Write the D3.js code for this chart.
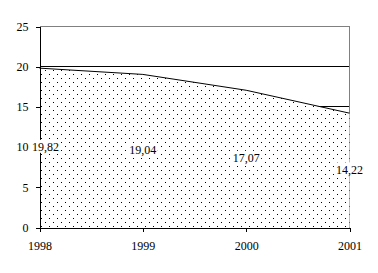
<!DOCTYPE html>
<meta charset='utf-8'>
<style>
  body { margin: 0; background: #fff; }
  text { font-family: 'Liberation Serif', 'Times New Roman', serif; font-size: 12px; fill: #000; }
  .domain, .tick line { stroke: #000; shape-rendering: crispEdges; }
</style>
<svg width='378' height='273'></svg>
<script src="https://d3js.org/d3.v7.min.js"></script>
<script>
  var years = [1998, 1999, 2000, 2001];
  var values = [19.82, 19.04, 17.07, 14.22];
  var labels = ['19,82', '19,04', '17,07', '14,22'];
  var yTicks = [0, 5, 10, 15, 20, 25];

  var svg = d3.select('svg'),
    plotLeft = 39.5, plotRight = 349.5, plotTop = 26.5, plotBottom = 227.5;

  var x = d3.scaleLinear().domain([1998, 2001]).range([plotLeft, plotRight]);
  var y = d3.scaleLinear().domain([0, 25]).range([plotBottom, plotTop]);

  // dot pattern
  var pat = svg.append('defs').append('pattern')
    .attr('id', 'dots')
    .attr('patternUnits', 'userSpaceOnUse')
    .attr('x', 1).attr('y', 2)
    .attr('width', 8).attr('height', 8);
  pat.append('rect').attr('x', 0).attr('y', 0).attr('width', 1).attr('height', 1).attr('fill', '#000');
  pat.append('rect').attr('x', 4).attr('y', 4).attr('width', 1).attr('height', 1).attr('fill', '#000');

  // gridlines
  svg.append('g').selectAll('line').data(yTicks.filter(function(d) { return d > 0; }))
    .enter().append('line')
    .attr('x1', plotLeft).attr('x2', plotRight)
    .attr('y1', function(d) { return y(d); })
    .attr('y2', function(d) { return y(d); })
    .attr('stroke', function(d) { return d === 25 ? '#808080' : '#000'; })
    .attr('shape-rendering', 'crispEdges');

  // right border
  svg.append('line')
    .attr('x1', plotRight).attr('x2', plotRight).attr('y1', plotTop).attr('y2', plotBottom)
    .attr('stroke', '#808080').attr('shape-rendering', 'crispEdges');

  var data = years.map(function(d, i) { return { year: d, value: values[i], label: labels[i] }; });

  var area = d3.area()
    .x(function(d) { return x(d.year); })
    .y0(plotBottom)
    .y1(function(d) { return y(d.value); });

  svg.append('path').datum(data)
    .attr('d', area)
    .attr('fill', '#fff');
  svg.append('path').datum(data)
    .attr('d', area)
    .attr('fill', 'url(#dots)');

  var line = d3.line()
    .x(function(d) { return x(d.year); })
    .y(function(d) { return y(d.value); });

  svg.append('path').datum(data)
    .attr('d', line)
    .attr('fill', 'none')
    .attr('stroke', '#000')
    .attr('stroke-width', 1);

  // axes
  svg.append('g')
    .attr('transform', 'translate(' + plotLeft + ',0)')
    .call(d3.axisLeft(y).tickValues(yTicks).tickSize(4).tickPadding(7).tickFormat(d3.format('d')));

  svg.append('g')
    .attr('transform', 'translate(0,' + plotBottom + ')')
    .call(d3.axisBottom(x).tickValues(years).tickSize(4).tickPadding(10).tickFormat(d3.format('d')))
    .call(function(g) { g.select('.domain').attr('d', 'M' + plotLeft + ',0.5H' + plotRight); });

  // value labels, kept from running past the left axis labels
  var lbl = svg.append('g').selectAll('g').data(data)
    .enter().append('g')
    .attr('transform', function(d) {
      var cx = Math.max(x(d.year), 45.5);
      return 'translate(' + cx + ',' + (y(d.value / 2) - 1) + ')';
    });

  lbl.append('rect')
    .attr('x', -15).attr('y', -7)
    .attr('width', 30).attr('height', 13)
    .attr('fill', '#fff');

  lbl.append('text')
    .attr('dy', '0.35em')
    .attr('text-anchor', 'middle')
    .text(function(d) { return d.label; });
</script>
